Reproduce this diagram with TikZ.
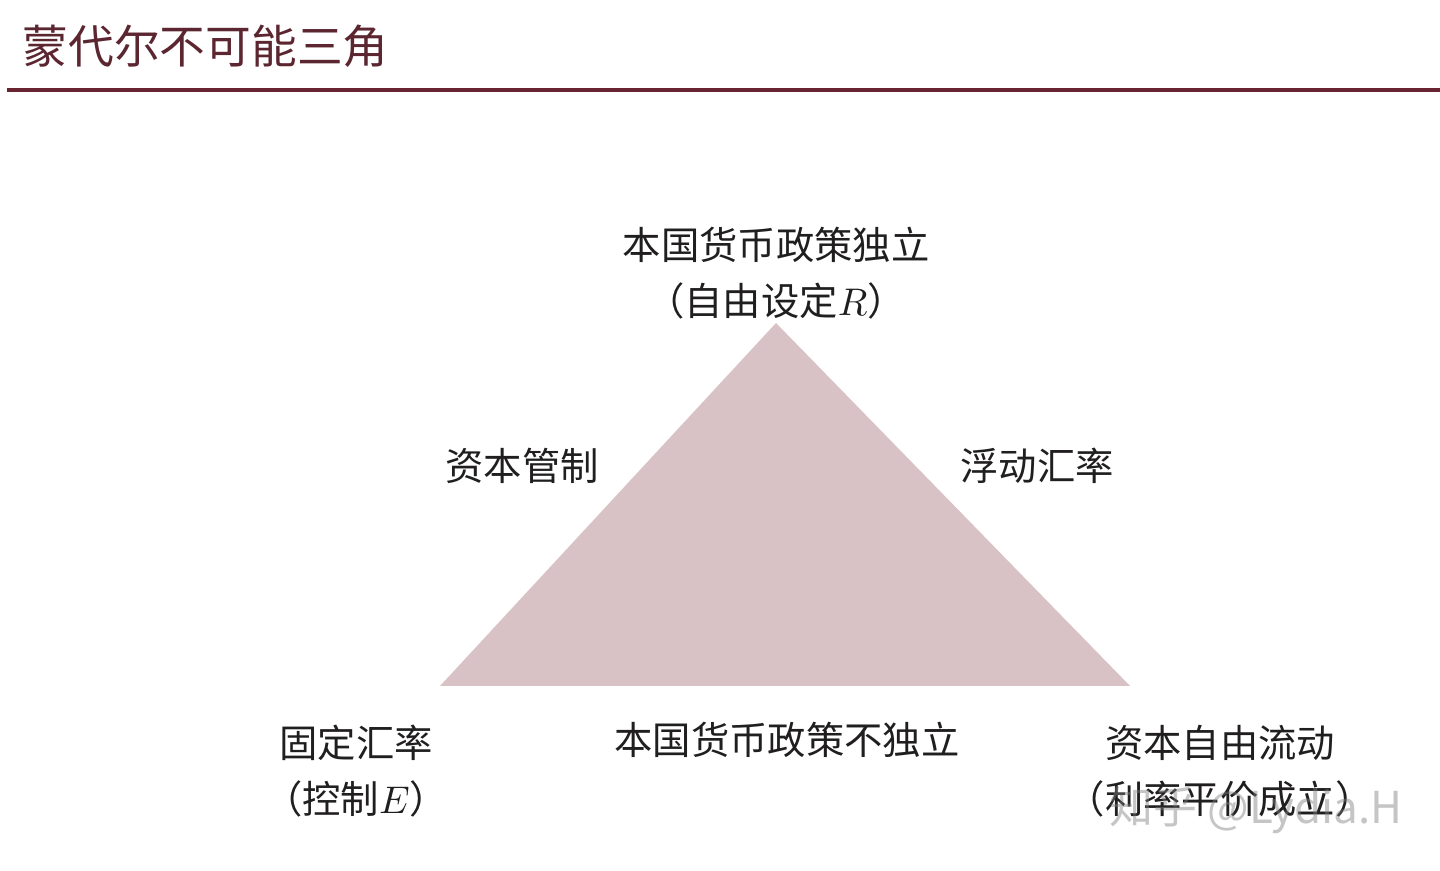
\documentclass[tikz,border=0pt]{standalone}
\usepackage{fontspec}
\newfontfamily\cjk{Noto Sans CJK SC}
\usepackage{tikz}
\usetikzlibrary{positioning}

\definecolor{titlered}{RGB}{92,38,48}
\definecolor{rulered}{RGB}{104,36,48}
\definecolor{trifill}{RGB}{216,194,197}
\definecolor{labelgray}{RGB}{32,30,30}

\begin{document}
\begin{tikzpicture}[x=0.01cm,y=-0.01cm,
    title/.style={font=\cjk\fontsize{13}{15}\selectfont, text=titlered, inner sep=0pt},
    lbl/.style={font=\cjk\fontsize{10.9}{15.8}\selectfont, text=labelgray, align=center, inner sep=0pt},
    wmark/.style={font=\cjk\fontsize{12.5}{14}\selectfont, text=gray, opacity=0.45, inner sep=0pt}]
    \useasboundingbox[fill=white] (0,0) rectangle (1440,871);
    % header
    \node[title, anchor=west] (head) at (22,46) {蒙代尔不可能三角};
    \coordinate (rule_l) at (7,90);
    \coordinate (rule_r) at (1440,90);
    \draw[rulered, line width=0.9pt] (rule_l) -- (rule_r);
    % triangle
    \coordinate (apex) at (776,323);
    \coordinate (base_l) at (440,686);
    \coordinate (base_r) at (1130,686);
    \fill[trifill] (apex) -- (base_l) -- (base_r) -- cycle;
    % corners
    \node[lbl] (top) at (776,273) {本国货币政策独立\\（自由设定$R$）};
    \node[lbl] (fixed) at (356,771) {固定汇率\\（控制$E$）};
    \node[lbl] (free) at (1220,771) {资本自由流动\\（利率平价成立）};
    % sides
    \node[lbl] (control) at (522,466) {资本管制};
    \node[lbl] (float) at (1037,466) {浮动汇率};
    \node[lbl] (dep) at (787,740) {本国货币政策不独立};
    % watermark
    \node[wmark] (wm) at (1256,810) {知乎 @Lydia.H};
\end{tikzpicture}
\end{document}
